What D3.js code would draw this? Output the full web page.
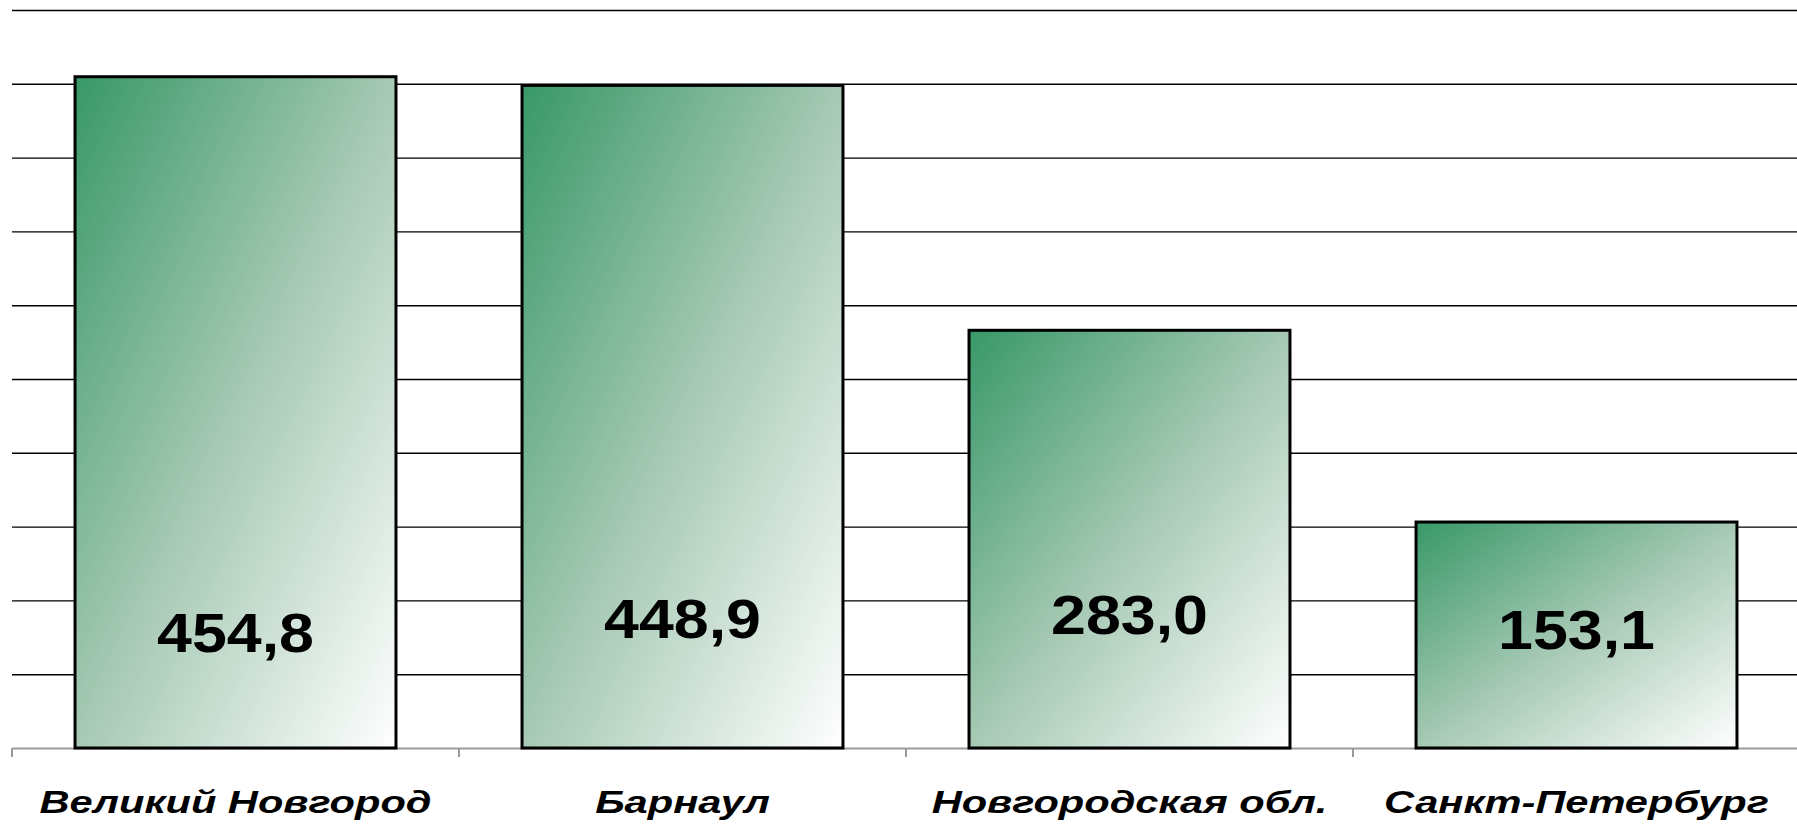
<!DOCTYPE html>
<html>
<head>
<meta charset="utf-8">
<script src="https://cdn.jsdelivr.net/npm/d3@7"></script>
<style>
  body { margin: 0; background: #fff; }
  svg { display: block; }
  .cat { font-family: "Liberation Sans", Arial, sans-serif; font-weight: bold; font-style: italic; }
  .val { font-family: "Liberation Sans", Arial, sans-serif; font-weight: bold; }
</style>
</head>
<body>
<div id="chart"></div>
<script>
// данные
const regions = ["Великий Новгород", "Барнаул", "Новгородская обл.", "Санкт-Петербург"];
const values = [454.8, 448.9, 283.0, 153.1];
const valueLabels = ["454,8", "448,9", "283,0", "153,1"];
// где стоит середина подписи внутри столбика (в единицах оси)
const labelLevels = [79, 88, 91, 81];
const gridTicks = [50, 100, 150, 200, 250, 300, 350, 400, 450, 500];

const width = 1797, height = 827;
const plotLeft = 12, plotRight = 1800, plotTop = 10, plotBottom = 748;
const pad = 0.282;

const svg = d3.select("#chart").append("svg")
    .attr("width", width)
    .attr("height", height);

const defs = svg.append("defs");
const grad = defs.append("linearGradient")
    .attr("id", "barGrad")
    .attr("x1", 0).attr("y1", 0).attr("x2", 1).attr("y2", 1);
grad.append("stop").attr("offset", "0%").attr("stop-color", "#389868");
grad.append("stop").attr("offset", "50%").attr("stop-color", "#a6c9b4");
grad.append("stop").attr("offset", "100%").attr("stop-color", "#ffffff");

const x = d3.scaleBand()
    .domain(regions)
    .range([plotLeft, plotRight])
    .paddingInner(pad)
    .paddingOuter(pad / 2);

const y = d3.scaleLinear()
    .domain([0, 500])
    .range([plotBottom, plotTop]);

// сетка
const grid = svg.append("g")
    .attr("transform", `translate(${plotLeft},0)`)
    .call(d3.axisLeft(y).tickValues(gridTicks).tickSize(-(width - plotLeft)).tickFormat(""));
grid.select(".domain").remove();
grid.selectAll(".tick line").attr("stroke", "#000").attr("stroke-width", 1.4);

// ось X
const xAxis = svg.append("g")
    .attr("transform", `translate(0,${plotBottom})`)
    .call(d3.axisBottom(x).tickSize(0).tickFormat(""));
xAxis.select(".domain").attr("stroke", "#9a9a9a").attr("stroke-width", 2);

const bounds = regions.map(d => x(d) - x.step() * pad / 2);
svg.append("g").selectAll("line")
    .data(bounds)
    .join("line")
    .attr("x1", d => d).attr("x2", d => d)
    .attr("y1", plotBottom).attr("y2", plotBottom + 9)
    .attr("stroke", "#9a9a9a")
    .attr("stroke-width", 2);

// столбики
svg.append("g").selectAll("rect")
    .data(values)
    .join("rect")
    .attr("x", (d, i) => x(regions[i]))
    .attr("y", d => y(d))
    .attr("width", x.bandwidth())
    .attr("height", d => y(0) - y(d))
    .attr("fill", "url(#barGrad)")
    .attr("stroke", "#000")
    .attr("stroke-width", 3);

// подписи значений
const valSize = 56;
svg.append("g").selectAll("text")
    .data(valueLabels)
    .join("text")
    .attr("class", "val")
    .attr("text-anchor", "middle")
    .attr("font-size", valSize)
    .attr("transform", (d, i) =>
        `translate(${x(regions[i]) + x.bandwidth() / 2},${y(labelLevels[i]) + valSize * 0.36}) scale(1.12,1)`)
    .text(d => d);

// подписи категорий
const catSize = 32;
svg.append("g").selectAll("text")
    .data(regions)
    .join("text")
    .attr("class", "cat")
    .attr("text-anchor", "middle")
    .attr("font-size", catSize)
    .attr("transform", d => `translate(${x(d) + x.bandwidth() / 2},813) scale(1.3,1)`)
    .text(d => d);
</script>
</body>
</html>
